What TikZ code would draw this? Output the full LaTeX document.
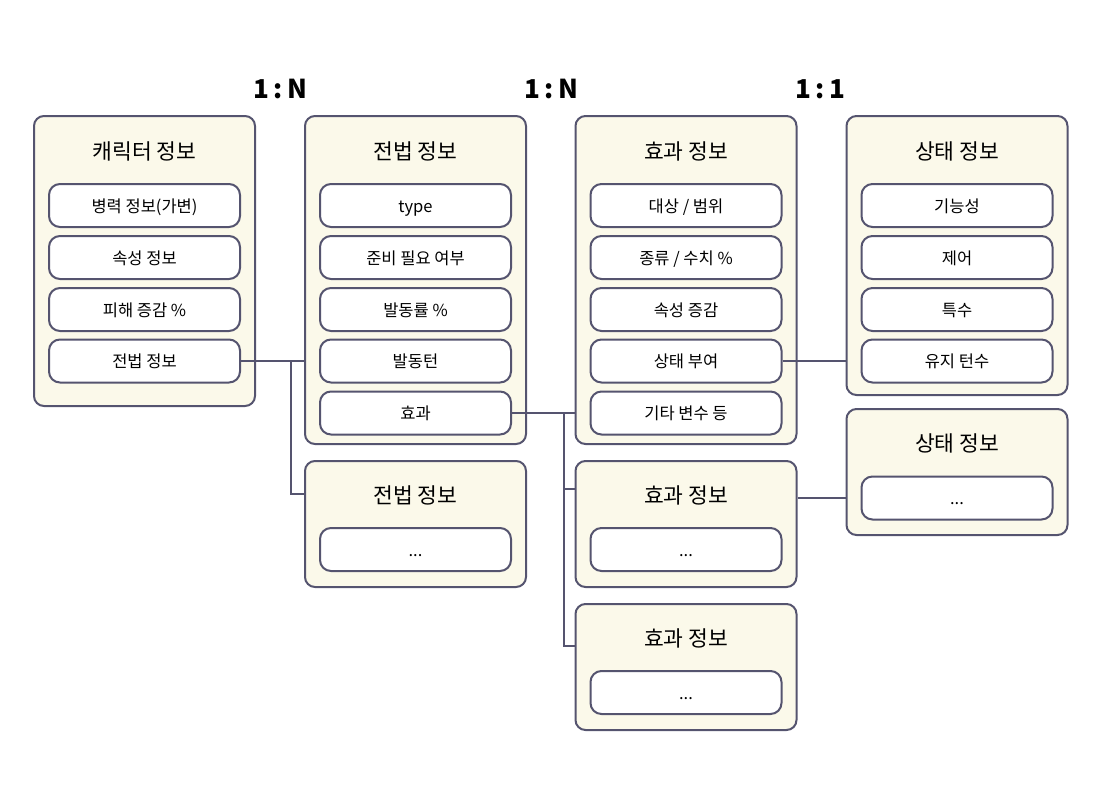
\documentclass[tikz,border=0pt]{standalone}
\usepackage{fontspec}
\setmainfont{Noto Sans CJK KR}
\definecolor{cream}{HTML}{FBF9EA}
\definecolor{edge}{HTML}{55546F}
\begin{document}
\begin{tikzpicture}[x=1pt,y=-1pt,
  panel/.style={draw=edge, fill=cream, rounded corners=10pt, line width=2pt, minimum width=221pt, inner sep=0pt},
  item/.style={draw=edge, fill=white, rounded corners=11pt, line width=2pt, minimum width=191pt, minimum height=43pt, inner sep=0pt, text height=15pt, text depth=2pt, font=\fontsize{16.5}{19}\selectfont},
  ttl/.style={font=\fontsize{21.5}{25}\selectfont, inner sep=0pt, text height=20pt, text depth=2pt},
  hdr/.style={font=\fontsize{26}{30}\selectfont\bfseries, inner sep=0pt},
  conn/.style={draw=edge, line width=2pt}]
\useasboundingbox (0,0) rectangle (1100,800);
% headers
\node[hdr] (h1) at (280,89) {1\hspace{4.5pt}:\hspace{4.5pt}N};
\node[hdr] (h2) at (551,89) {1\hspace{4.5pt}:\hspace{4.5pt}N};
\node[hdr] (h3) at (820,89) {1\hspace{4.5pt}:\hspace{4.5pt}1};
% panel 1
\node[panel, minimum height=290pt] (p1) at (144.5,261) {};
\node[ttl] (t1) at (144.5,150) {캐릭터 정보};
\node[item] (p1r1) at (144.5,205.5) {병력 정보(가변)};
\node[item] (p1r2) at (144.5,257.5) {속성 정보};
\node[item] (p1r3) at (144.5,309.5) {피해 증감 \%};
\node[item] (p1r4) at (144.5,361) {전법 정보};
% panel 2
\node[panel, minimum height=328pt] (p2) at (415.5,280) {};
\node[ttl] (t2) at (415.5,150) {전법 정보};
\node[item] (p2r1) at (415.5,205.5) {type};
\node[item] (p2r2) at (415.5,257.5) {준비 필요 여부};
\node[item] (p2r3) at (415.5,309.5) {발동률 \%};
\node[item] (p2r4) at (415.5,361) {발동턴};
\node[item] (p2r5) at (415.5,413) {효과};
% panel 2b
\node[panel, minimum height=126pt] (p2b) at (415.5,524) {};
\node[ttl] (t2b) at (415.5,494) {전법 정보};
\node[item] (p2br1) at (415.5,549.5) {...};
% panel 3
\node[panel, minimum height=328pt] (p3) at (686,280) {};
\node[ttl] (t3) at (686,150) {효과 정보};
\node[item] (p3r1) at (686,205.5) {대상 / 범위};
\node[item] (p3r2) at (686,257.5) {종류 / 수치 \%};
\node[item] (p3r3) at (686,309.5) {속성 증감};
\node[item] (p3r4) at (686,361) {상태 부여};
\node[item] (p3r5) at (686,413) {기타 변수 등};
% panel 3b
\node[panel, minimum height=126pt] (p3b) at (686,524) {};
\node[ttl] (t3b) at (686,494) {효과 정보};
\node[item] (p3br1) at (686,549.5) {...};
% panel 3c
\node[panel, minimum height=126pt] (p3c) at (686,667) {};
\node[ttl] (t3c) at (686,637) {효과 정보};
\node[item] (p3cr1) at (686,692.5) {...};
% panel 4
\node[panel, minimum height=279pt] (p4) at (957,255.5) {};
\node[ttl] (t4) at (957,150) {상태 정보};
\node[item] (p4r1) at (957,205.5) {기능성};
\node[item] (p4r2) at (957,257.5) {제어};
\node[item] (p4r3) at (957,309.5) {특수};
\node[item] (p4r4) at (957,361) {유지 턴수};
% panel 4b
\node[panel, minimum height=126pt] (p4b) at (957,472) {};
\node[ttl] (t4b) at (957,442) {상태 정보};
\node[item] (p4br1) at (957,498) {...};
% connectors
\coordinate (j1) at (291,361);
\coordinate (j2) at (564,413);
\coordinate (b2b) at (304,494);
\draw[conn] (p1r4.east) -- (p2.west |- p1r4.east);
\draw[conn] (j1) |- (b2b);
\draw[conn] (p2r5.east) -- (p3.west |- p2r5.east);
\coordinate (b3b) at (575,489);
\coordinate (b3c) at (575,646);
\draw[conn] (j2) |- (b3c);
\draw[conn] (j2 |- b3b) -- (b3b);
\draw[conn] (p3r4.east) -- (p4.west |- p3r4.east);
\coordinate (b4b) at (846,498);
\draw[conn] (p3b.east |- b4b) -- (b4b);
\end{tikzpicture}
\end{document}
